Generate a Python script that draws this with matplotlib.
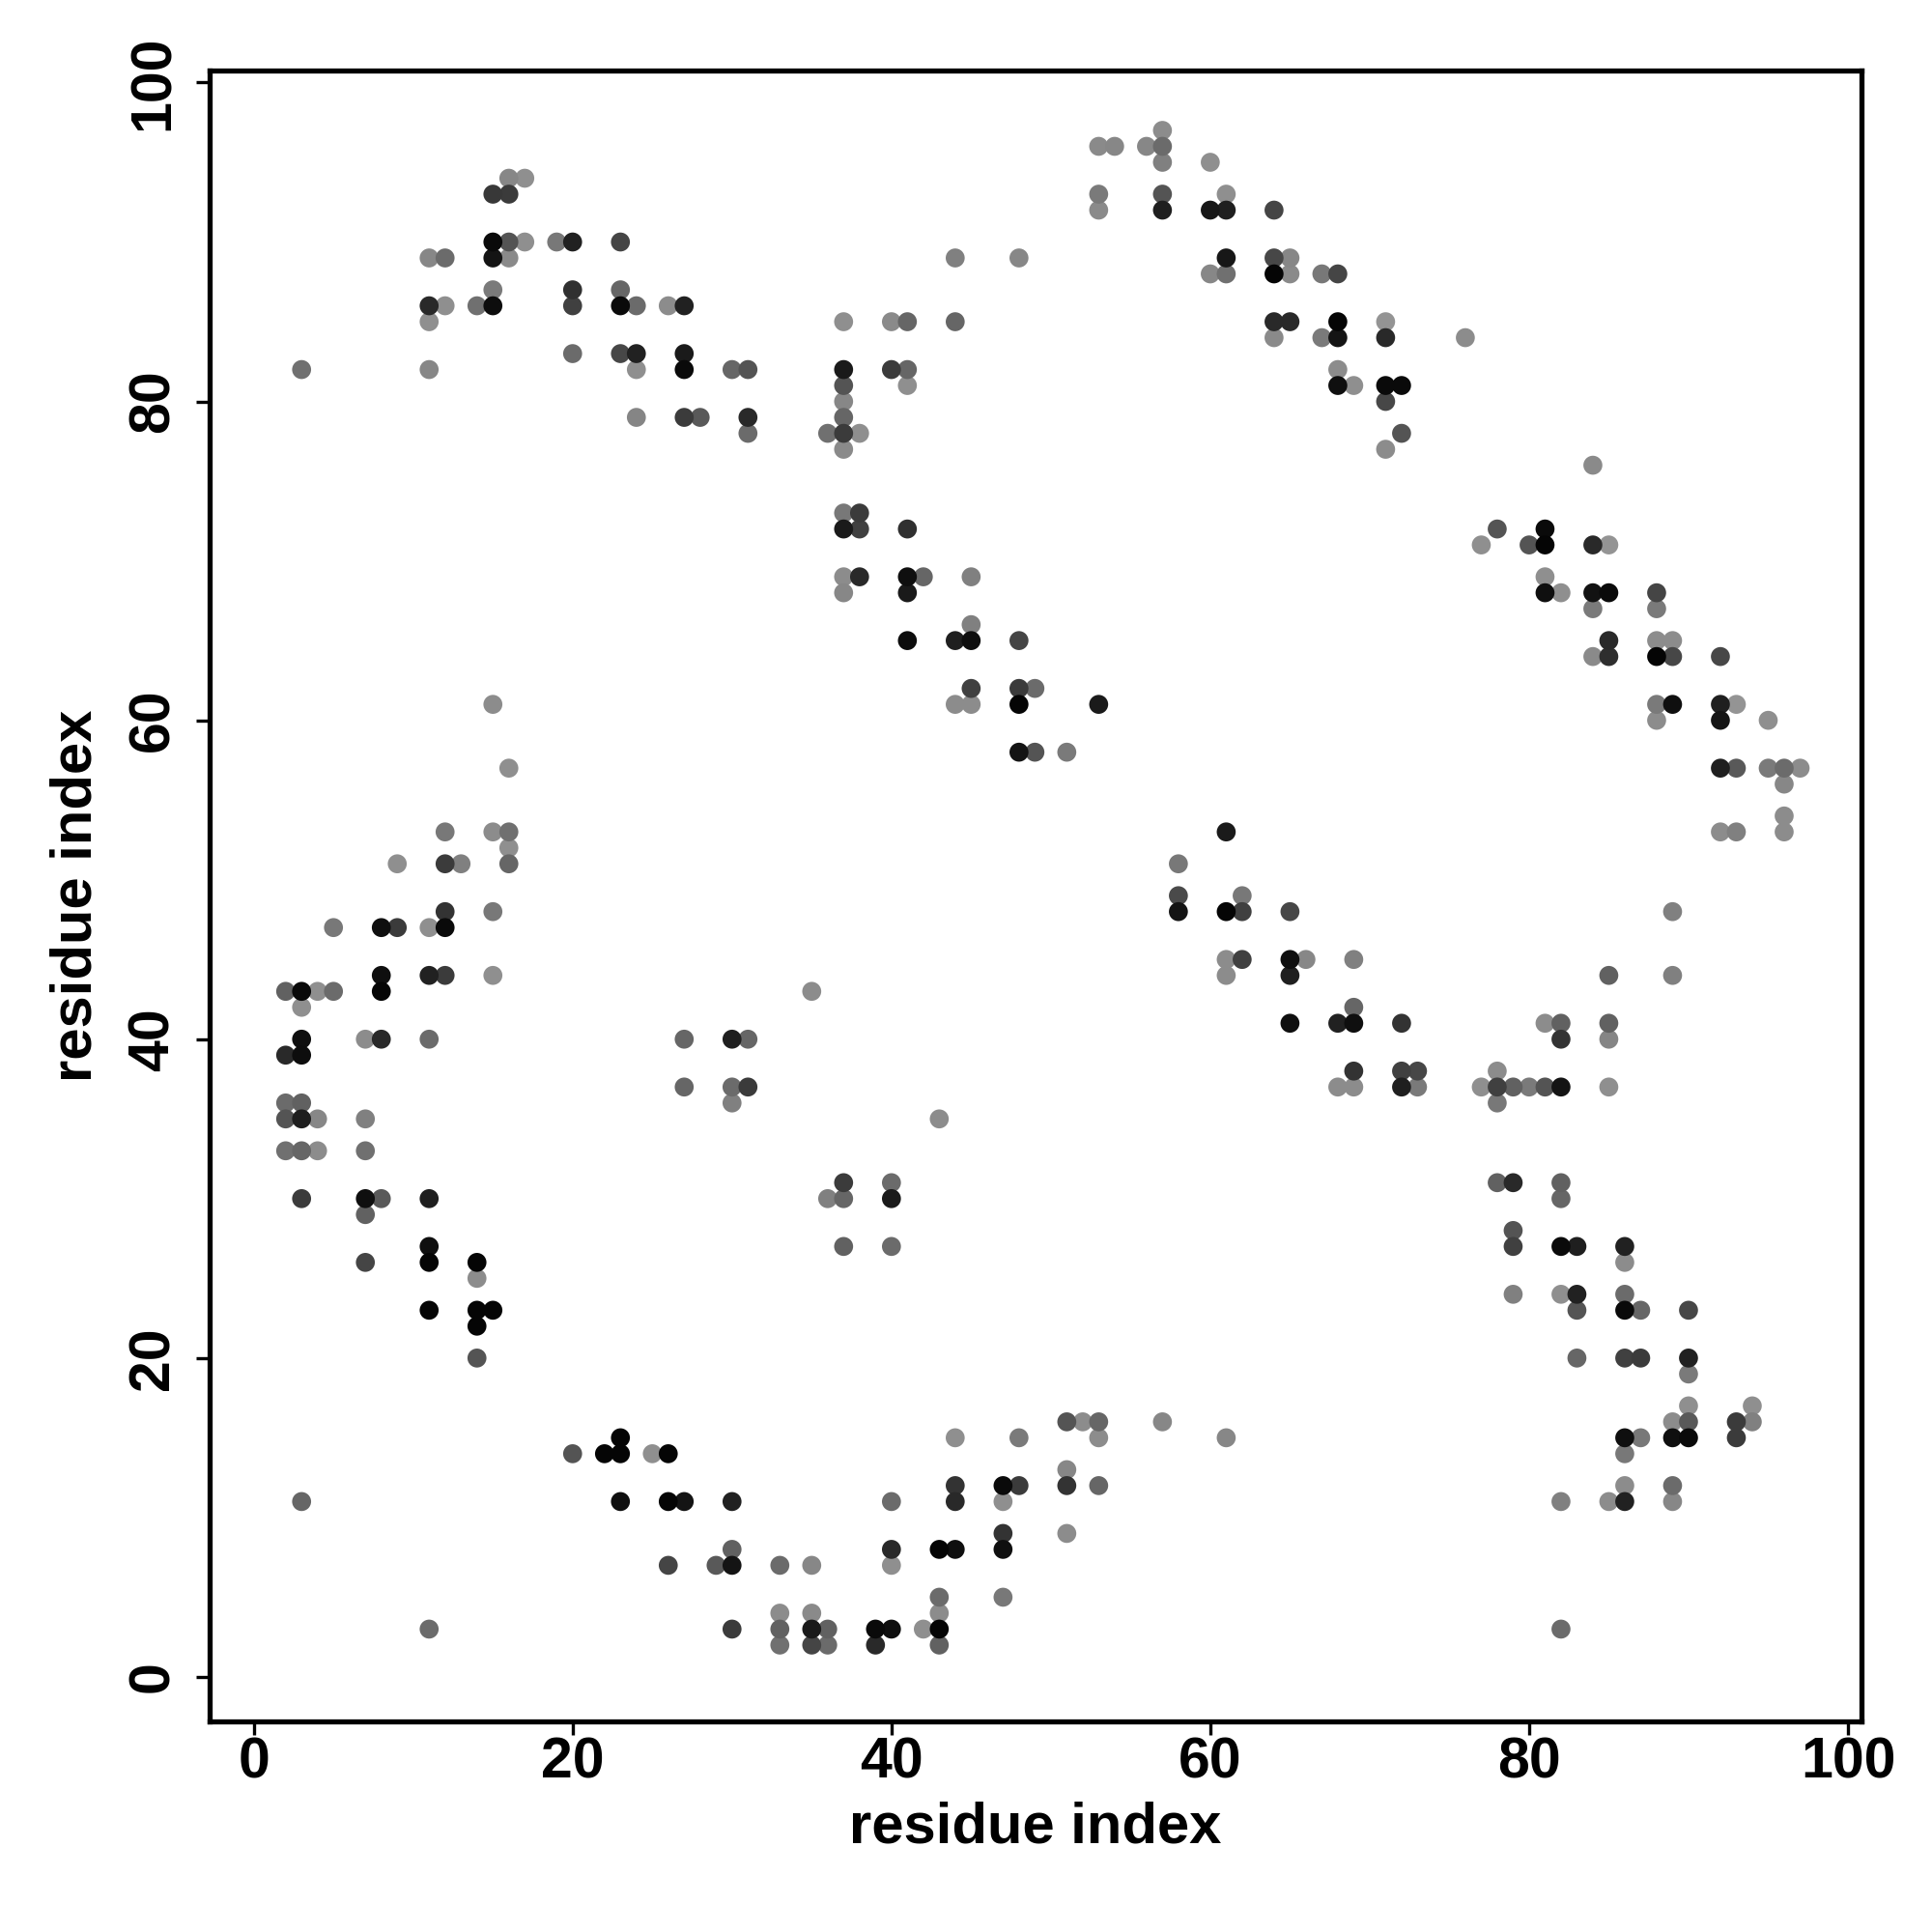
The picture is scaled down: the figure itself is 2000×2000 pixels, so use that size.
import matplotlib
matplotlib.use("Agg")
import matplotlib.pyplot as plt
import numpy as np

# contacts: (residue i, residue j, grey level 0=black .. 1=white)
top_left = [(16,94,.53),(17,94,.56),(15,93,.22),(16,93,.23),(15,90,.04),(16,90,.33),(17,90,.56),
            (19,90,.47),(20,90,.13),(23,90,.27),(11,89,.53),(12,89,.42),(15,89,.08),(16,89,.54),
            (15,87,.48),(20,87,.19),(23,87,.4),(11,86,.16),(12,86,.56),(14,86,.44),(15,86,.05),
            (20,86,.25),(23,86,.04),(24,86,.42),(11,85,.56),(20,83,.42),(23,83,.28),(24,83,.13),
            (24,82,.56),(3,82,.44),(11,82,.53),(24,79,.52)]

top_mid = [(26,86,.55),(27,86,.13),(27,83,.1),(27,82,.04),(30,82,.4),(31,82,.33),(27,79,.23),
           (28,79,.35),(31,79,.16),(31,78,.42),(44,89,.5),(48,89,.53),(37,85,.56),(40,85,.54),
           (41,85,.4),(44,85,.4),(37,82,.1),(40,82,.23),(41,82,.4),(41,81,.56),(37,81,.33),
           (37,80,.53),(37,79,.4),(36,78,.44),(37,78,.23),(38,78,.56),(37,77,.54),(37,73,.47),
           (38,73,.23),(37,72,.1),(38,72,.25),(41,72,.19),(37,69,.55),(38,69,.16),(41,69,.06),
           (42,69,.4),(45,69,.5),(37,68,.53),(41,68,.1),(45,66,.5),(41,65,.05),(44,65,.12),
           (45,65,.06),(48,65,.27)]

top_right = [(53,96,.54),(54,96,.53),(56,96,.53),(57,96,.42),(57,97,.55),(57,95,.5),(60,95,.56),
             (53,93,.48),(53,92,.54),(57,93,.33),(57,92,.12),(60,92,.09),(61,92,.12),(61,93,.56),
             (64,92,.27),(61,89,.09),(60,88,.53),(61,88,.44),(64,89,.28),(65,89,.53),(64,88,.02),
             (65,88,.54),(67,88,.47),(68,88,.27),(64,85,.16),(65,85,.16),(64,84,.54),(67,84,.48),
             (68,85,.02),(68,84,.08),(71,85,.58),(71,84,.16),(76,84,.55),(68,82,.55),(68,81,.06),
             (69,81,.56),(71,81,.04),(72,81,.04),(71,80,.28),(72,78,.33),(71,77,.55)]

far_right = [(84,76,.54),(78,72,.33),(77,71,.56),(80,71,.33),(81,72,.04),(81,71,.02),(84,71,.16),
             (85,71,.58),(81,69,.56),(81,68,.06),(82,68,.56),(84,68,.07),(85,68,.04),(84,67,.48),
             (88,68,.27),(88,67,.48),(85,65,.16),(88,65,.55),(89,65,.55),(84,64,.54),(85,64,.18),
             (88,64,.02),(89,64,.28),(92,64,.28),(88,61,.48),(89,61,.06),(88,60,.55),(92,61,.12),
             (93,61,.58),(92,60,.08),(95,60,.56),(92,57,.12),(93,57,.35),(95,57,.48),(96,57,.42),
             (97,57,.55),(96,56,.53),(92,53,.55),(93,53,.5),(96,54,.55),(96,53,.55),(89,48,.5),
             (85,44,.38),(89,44,.5),(81,41,.55),(82,41,.38),(82,40,.2),(85,41,.38),(85,40,.52),
             (78,38,.55),(77,37,.56),(78,37,.25),(79,37,.38),(80,37,.48),(81,37,.33),(82,37,.08),
             (85,37,.56),(78,36,.47),(78,31,.38),(79,31,.16),(82,31,.38),(82,30,.4)]

centre = [(53,61,.1),(51,58,.48),(61,53,.1),(58,51,.47),(58,49,.29),(58,48,.08),(62,49,.47),
          (61,48,.02),(62,48,.25),(65,48,.28),(61,45,.55),(62,45,.25),(61,44,.55),(65,45,.06),
          (66,45,.53),(65,44,.12),(69,45,.5),(69,42,.4),(65,41,.06),(68,41,.13),(69,41,.06),
          (72,41,.2),(69,38,.2),(72,38,.25),(73,38,.28),(68,37,.55),(69,37,.55),(72,37,.12),
          (73,37,.48),(45,62,.25),(48,62,.23),(49,62,.42),(44,61,.55),(45,61,.55),(48,61,.02),
          (48,58,.08),(49,58,.33),(35,43,.55),(27,40,.4),(30,40,.12),(31,40,.4),(27,37,.4),
          (30,37,.42),(31,37,.23),(30,36,.5),(43,35,.55),(37,31,.23),(36,30,.5),(37,30,.4),
          (40,31,.42),(40,30,.1)]

left_side = [(15,61,.55),(16,57,.56),(12,53,.47),(15,53,.55),(16,53,.44),(16,52,.56),(9,51,.56),
             (12,51,.23),(13,51,.5),(16,51,.4),(12,48,.2),(15,48,.47),(5,47,.47),(8,47,.06),
             (9,47,.23),(11,47,.56),(12,47,.04),(8,44,.06),(11,44,.13),(12,44,.23),(15,44,.56),
             (2,43,.38),(3,43,.04),(4,43,.56),(5,43,.42),(8,43,.02),(3,42,.56),(3,40,.06),
             (7,40,.55),(8,40,.16),(11,40,.42),(2,39,.16),(3,39,.05),(2,36,.42),(3,36,.38),
             (2,35,.33),(3,35,.12),(4,35,.53),(7,35,.5),(2,33,.44),(3,33,.4),(4,33,.55),
             (7,33,.44),(3,30,.23),(7,30,.06),(8,30,.35),(11,30,.12),(7,29,.38),(7,26,.27),
             (11,27,.06),(11,26,.02),(14,26,.02),(14,25,.55),(11,23,.02),(14,23,.02),(15,23,.02),
             (14,22,.02),(14,20,.33),(3,11,.4),(11,3,.42)]

bottom = [(20,14,.33),(22,14,.02),(23,14,.02),(23,15,.02),(25,14,.56),(23,11,.06),
          (37,27,.38),(40,27,.42),(26,14,.02),(26,11,.02),(27,11,.08),(30,11,.13),(30,8,.38),
          (26,7,.27),(29,7,.35),(30,7,.08),(33,7,.42),(35,7,.53),(30,3,.23),(33,4,.55),
          (33,3,.38),(33,2,.44),(35,4,.54),(35,3,.1),(36,3,.38),(35,2,.27),(36,2,.42),
          (39,3,.04),(40,3,.06),(39,2,.16),(40,7,.56),(40,8,.16),(40,11,.42),(42,3,.56),
          (43,3,.02),(43,2,.38),(43,4,.55),(43,5,.42),(43,8,.02),(44,8,.06),(44,12,.2),
          (44,11,.16),(44,15,.56),(47,12,.04),(48,12,.23),(47,11,.56),(47,9,.2),(47,8,.06),
          (47,5,.47),(48,15,.48),(51,16,.33),(52,16,.55),(53,16,.4),(53,15,.55),(57,16,.53),
          (61,15,.53),(51,13,.53),(51,12,.2),(53,12,.4),(51,9,.55)]

bottom_right = [(79,28,.33),(79,27,.25),(82,27,.04),(83,27,.12),(86,27,.13),(86,26,.55),(79,24,.5),
                (82,24,.56),(83,24,.13),(83,23,.33),(86,24,.42),(86,23,.04),(87,23,.4),(90,23,.28),
                (83,20,.4),(86,20,.25),(87,20,.23),(90,20,.13),(90,19,.48),(90,17,.56),(89,16,.55),
                (90,16,.35),(89,15,.06),(90,15,.04),(93,16,.23),(93,15,.23),(94,17,.56),(94,16,.5),
                (86,15,.06),(87,15,.47),(86,14,.47),(86,12,.55),(85,11,.55),(86,11,.13),(82,11,.5),
                (89,12,.42),(89,11,.53),(82,3,.42)]

ticks = [0, 20, 40, 60, 80, 100]

pts = np.array(top_left + top_mid + top_right + far_right + centre + left_side + bottom + bottom_right)
# light ones first, dark ones on top
pts = pts[np.argsort(-pts[:, 2], kind="stable")]

plt.rcParams['font.family'] = ['Liberation Sans', 'DejaVu Sans']
plt.rcParams['font.weight'] = 'bold'

fig = plt.figure(figsize=(20, 20), dpi=100)
ax = fig.add_axes([0.1085, 0.109, 0.855, 0.8547])

cols = [(g, g, g) for g in pts[:, 2]]
ax.scatter(pts[:, 0], pts[:, 1], s=200, c=cols, linewidths=0, zorder=3)

ax.set_xlim(-2.77, 100.85)
ax.set_ylim(-2.79, 100.78)
ax.set_xticks(ticks)
ax.set_yticks(ticks)
ax.tick_params(length=10, width=2.4, labelsize=42.5, direction='out')
ax.tick_params(axis='x', pad=1)
ax.tick_params(axis='y', pad=12)
for lab in ax.get_yticklabels():
    lab.set_rotation(90)
    lab.set_va('center')
for sp in ax.spines.values():
    sp.set_linewidth(3.8)

ax.set_xlabel('residue index', fontsize=43, fontweight='bold')
ax.set_ylabel('residue index', fontsize=43, fontweight='bold')
ax.xaxis.set_label_coords(0.5, -0.0644)
ax.xaxis.label.set_va('center')
ax.yaxis.set_label_coords(-0.0807, 0.5)
ax.yaxis.label.set_va('center')

fig.savefig('out.png', dpi=100, facecolor='white')
